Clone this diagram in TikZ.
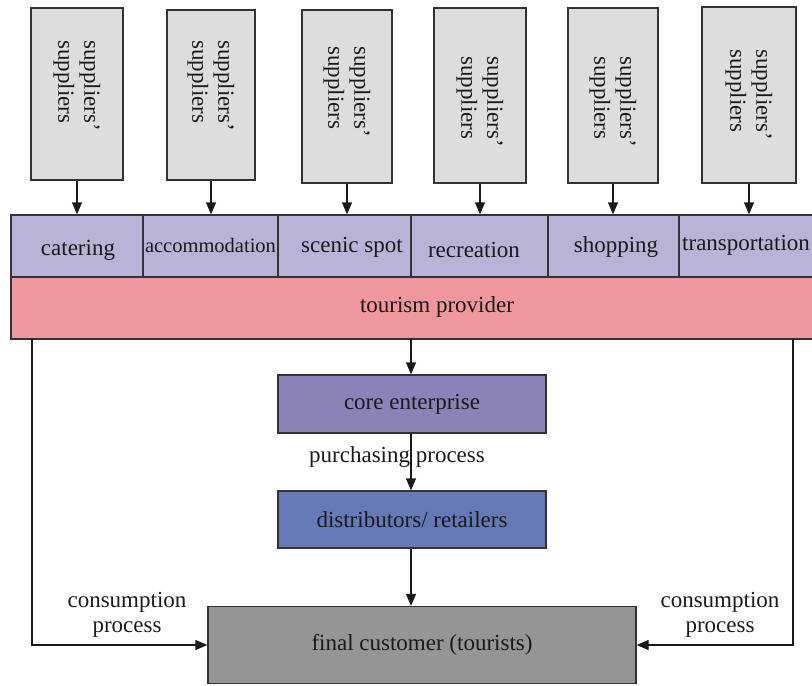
\documentclass[tikz,border=0pt]{standalone}
\usepackage{fontspec}
\setmainfont{Liberation Serif}
\usetikzlibrary{arrows.meta}
\definecolor{supfill}{HTML}{DDDDDD}
\definecolor{cellfill}{HTML}{B8B3D7}
\definecolor{provfill}{HTML}{EE979C}
\definecolor{corefill}{HTML}{8B82B7}
\definecolor{distfill}{HTML}{6479B6}
\definecolor{custfill}{HTML}{959595}
\definecolor{edge}{HTML}{333333}
\definecolor{ink}{HTML}{1A1A1A}
\begin{document}
\begin{tikzpicture}[x=1pt,y=-1pt,
  box/.style={draw=edge, line width=1.3pt, inner sep=0pt, text=ink},
  supbox/.style={box, fill=supfill},
  cell/.style={box, fill=cellfill},
  suptext/.style={rotate=-90, anchor=west, align=left, inner sep=0pt, text=ink,
    font=\fontsize{23}{26}\selectfont},
  lbl/.style={inner sep=0pt, text=ink, font=\fontsize{23}{25}\selectfont},
  conn/.style={draw=ink, line width=1.3pt},
  arr/.style={conn, -{Triangle[length=12pt,width=10pt]}}
]
\useasboundingbox (0,0) rectangle (812,686);
\clip (0,0) rectangle (812,686);

% suppliers' suppliers boxes
\node[supbox, minimum width=92, minimum height=172] (s1) at (77,94) {};
\node[supbox, minimum width=88, minimum height=170] (s2) at (211,95) {};
\node[supbox, minimum width=90, minimum height=173] (s3) at (347,96.5) {};
\node[supbox, minimum width=92, minimum height=175] (s4) at (480,95.5) {};
\node[supbox, minimum width=90, minimum height=175] (s5) at (613,95.5) {};
\node[supbox, minimum width=94, minimum height=176] (s6) at (749,95) {};
\node[suptext] (t1) at (77,40) {suppliers’\\suppliers};
\node[suptext] (t2) at (211,40) {suppliers’\\suppliers};
\node[suptext] (t3) at (347,46) {suppliers’\\suppliers};
\node[suptext] (t4) at (480,56) {suppliers’\\suppliers};
\node[suptext] (t5) at (613,56) {suppliers’\\suppliers};
\node[suptext] (t6) at (749,49) {suppliers’\\suppliers};

% function row
\node[cell, minimum width=132, minimum height=62] (c1) at (77,246) {};
\node[cell, minimum width=135, minimum height=62] (c2) at (210.5,246) {};
\node[cell, minimum width=133, minimum height=62] (c3) at (344.5,246) {};
\node[cell, minimum width=137, minimum height=62] (c4) at (479.5,246) {};
\node[cell, minimum width=131, minimum height=62] (c5) at (613.5,246) {};
\node[cell, minimum width=151, minimum height=62] (c6) at (754.5,246) {};
\node[lbl] (l1) at (78,250) {catering};
\node[lbl, font=\fontsize{20.5}{22}\selectfont] (l2) at (210.5,245) {accommodation};
\node[lbl] (l3) at (352,247) {scenic spot};
\node[lbl] (l4) at (474,250) {recreation};
\node[lbl] (l5) at (616,247) {shopping};
\node[lbl, anchor=west] (l6) at (682,245) {transportation};

% tourism provider
\node[box, fill=provfill, minimum width=819, minimum height=62] (p) at (420.5,308) {};
\node[lbl] (pl) at (437,307) {tourism provider};

% core, distributors, customer
\node[box, fill=corefill, minimum width=268, minimum height=58, font=\fontsize{23}{25}\selectfont] (core) at (412,404) {core enterprise};
\node[box, fill=distfill, minimum width=268, minimum height=57, font=\fontsize{23}{25}\selectfont] (dist) at (412,519.5) {distributors/ retailers};
\node[box, fill=custfill, minimum width=428, minimum height=77, font=\fontsize{23}{25}\selectfont] (cust) at (422,645) {final customer (tourists)};

\node[lbl] (pp) at (397,457) {purchasing process};
\node[lbl, align=center] (cl) at (127,615) {consumption\\process};
\node[lbl, align=center] (cr) at (720,615) {consumption\\process};

% arrows suppliers -> row
\foreach \i in {1,...,6}{
  \draw[arr] (s\i.south) -- (s\i.south |- c\i.north);
}
% provider -> core -> dist -> customer
\coordinate (pm) at (411,339);
\draw[arr] (pm) -- (pm |- core.north);
\draw[arr] (core.south -| pm) -- (pm |- dist.north);
\draw[arr] (dist.south -| pm) -- (pm |- cust.north);

% consumption process lines
\coordinate (pL) at (32,339);
\coordinate (pR) at (793,339);
\draw[arr] (pL) |- (cust.west);
\draw[arr] (pR) |- (cust.east);
\end{tikzpicture}
\end{document}
